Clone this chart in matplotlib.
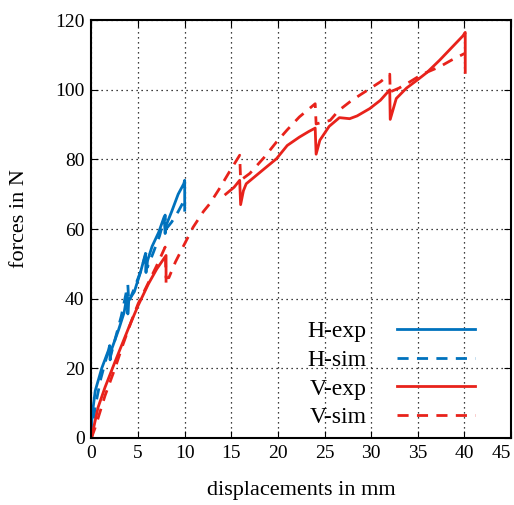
import numpy as np
import matplotlib
matplotlib.use("Agg")
import matplotlib.pyplot as plt

plt.rcParams['font.family'] = ['Liberation Serif', 'DejaVu Serif']

nan = np.nan

# H-exp (blue solid)
hx = [0, 0.05, 0.4, 1.1, 1.8, 1.95, 2.0, 2.1, 2.9, 3.5, 3.85, 3.9, 4.0, 4.6, 5.3, 5.8,
      5.85, 5.9, 6.5, 7.2, 7.8, 7.9, 8.0, 8.6, 9.3, 9.9, 10.0, 10.0]
hy = [0, 6, 13.5, 20, 25, 26.5, 22.4, 25, 31, 36, 41.5, 35.6, 39.5, 42, 48, 53,
      47.5, 50, 55, 59, 63.5, 58.7, 61, 65, 70, 73, 74, 67]

# H-sim (blue dashed)
hsx = [0, 0.4, 1.0, 1.6, 2.0, 2.05, 2.6, 3.2, 3.9, 4.0, 4.6, 5.3, 5.9, 6.0, 6.6,
       7.3, 7.9, 8.0, 8.6, 9.3, 10.0, 10.0]
hsy = [0, 9, 17, 23, 26, 23.5, 29, 35, 44, 39, 43, 48, 53.5, 49, 53,
       58, 64, 60, 62, 65, 68.5, 65]

# V-exp (red solid), gap between 8 and 14.5 mm
vx = [0, 0.7, 1.45, 2.5, 4.0, 5.0, 6.1, 7.0, 8.0, 8.0, nan,
      14.4, 15.3, 15.9, 16.0, 16.3, 16.6, 17.5, 18.4, 19.85, 21, 22.3, 23.3, 24, 24.1,
      24.5, 25.5, 26.6, 27.7, 28.5, 29.85, 31, 32, 32.05, 32.7, 33.8, 34.9, 36,
      37.35, 38.6, 39.85, 40.1, 40.1]
vy = [0, 8.7, 14.5, 21.7, 31.7, 38, 44.2, 48.5, 52.4, 45, nan,
      70, 72, 74, 67, 71, 73, 75, 77, 80.2, 84, 86.4, 88, 89, 81.5,
      85.5, 89.5, 92, 91.7, 92.5, 94.6, 97, 100, 91.5, 97.5, 100.5, 102.7, 105,
      108.5, 112, 115.5, 116.5, 105]

# V-sim (red dashed)
vsx = [0, 0.4, 1.45, 2.5, 3.4, 4.3, 5.0, 6.0, 7.0, 7.9, 8.0, 8.3, 9.0, 10.0, 10.9,
       12.0, 12.7, 13.7, 14.7, 15.9, 16.0, 17.0, 18.5, 19.85, 21, 22.3, 24.0, 24.1,
       25.6, 26.5, 27.7, 28.8, 29.85, 31, 32.0, 32.05, 33, 34.1, 35.5, 37.35, 38.6, 40.0]
vsy = [0, 3, 12.1, 19.8, 27, 33.7, 38.5, 44, 49.5, 54.8, 46, 46, 50.5, 55.8, 60.5,
       65, 67.3, 71.5, 76, 81.2, 74, 76, 80.5, 85, 88.5, 92.2, 96, 90.2,
       91.2, 94, 96.5, 98.5, 100.3, 102.3, 104.5, 99.4, 100.5, 102.2, 104.5, 106.6, 108.5, 110.4]

blue = '#0072bd'
red = '#e8221b'

fig = plt.figure(figsize=(5.14, 5.05), dpi=100)
ax = fig.add_axes([0.178, 0.133, 0.816, 0.827])

ax.plot(hx, hy, color=blue, lw=2, label='H-exp')
ax.plot(hsx, hsy, color=blue, lw=2, dashes=(4, 3), label='H-sim')
ax.plot(vx, vy, color=red, lw=2, label='V-exp')
ax.plot(vsx, vsy, color=red, lw=2, dashes=(4, 3), label='V-sim')

ax.set_xlim(0, 45)
ax.set_ylim(0, 120)
ax.set_xticks(np.arange(0, 46, 5))
ax.set_yticks(np.arange(0, 121, 20))
ax.grid(True, color='black', linestyle=(0, (1, 3)), lw=0.9)
ax.tick_params(direction='in', top=True, right=True, labelsize=14, length=5, pad=5)
ax.get_xticklabels()[-1].set_ha('right')
for s in ax.spines.values():
    s.set_linewidth(1.5)

ax.set_xlabel('displacements in mm', fontsize=16, labelpad=14)
ax.set_ylabel('forces in N', fontsize=16)
ax.yaxis.set_label_coords(-0.15, 0.525)

leg = ax.legend(loc='lower right', bbox_to_anchor=(0.965, -0.028), frameon=False,
                markerfirst=False, fontsize=17, handlelength=3.3,
                labelspacing=0.3, handletextpad=1.3)

fig.savefig('out.png', dpi=100)
